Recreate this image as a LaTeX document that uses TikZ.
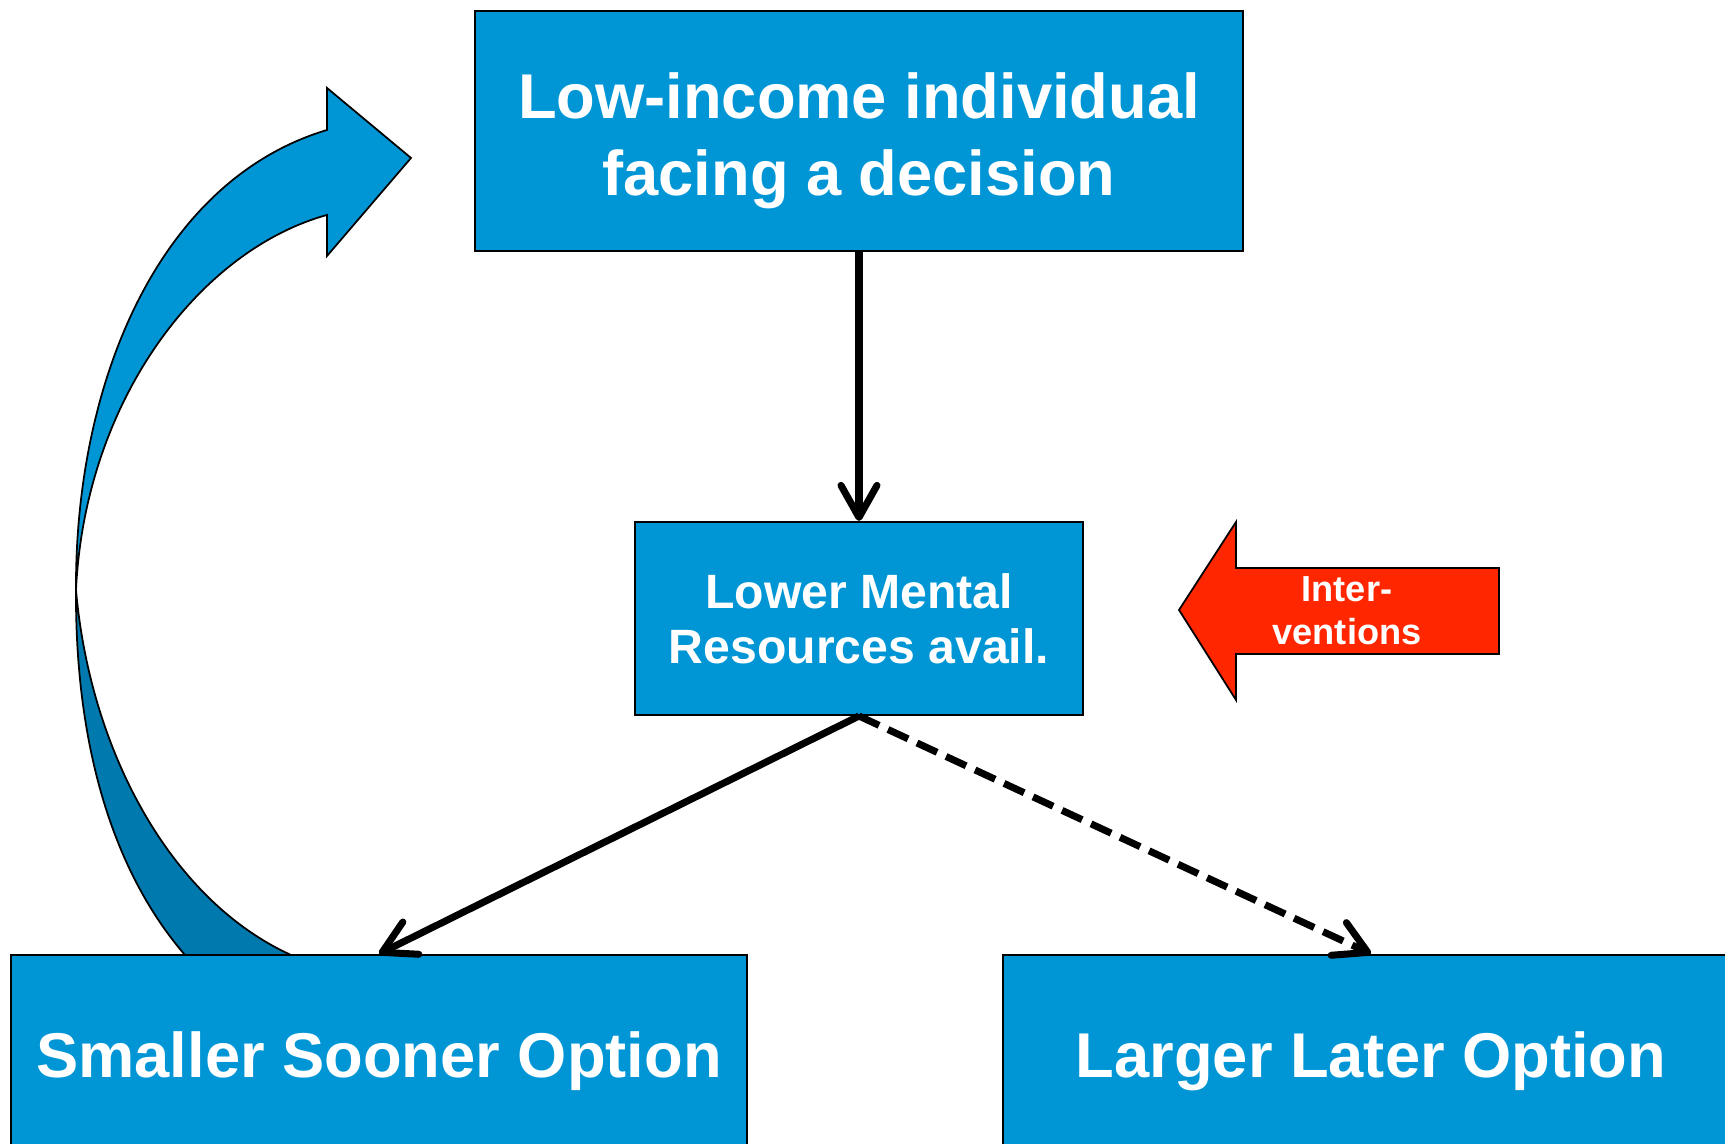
\documentclass[tikz,border=0pt]{standalone}
\usepackage{fontspec}
\setmainfont{Liberation Sans}
\usetikzlibrary{arrows.meta}
\definecolor{boxblue}{RGB}{0,150,214}
\definecolor{bandblue}{RGB}{0,121,174}
\definecolor{hintred}{RGB}{255,38,0}
\tikzset{
	bluebox/.style={draw=black, line width=0.6pt, fill=boxblue, text=white, align=center, inner sep=0pt},
	flow/.style={line width=2pt, -{Straight Barb[length=0.32cm, width=0.36cm, round]}},
}

\begin{document}
\begin{tikzpicture}
		%%%%% START %%%%%
		\useasboundingbox (0, 0) rectangle (17.25, 11.44);
		\clip (0, 0) rectangle (17.25, 11.44);
		
		% curved arrow going back up
		\draw[line width=0.5pt, fill=boxblue] (3.27, 10.14) -- (3.27, 10.56) -- (4.11, 9.86) -- (3.27, 8.88) -- (3.27, 9.29) .. controls (2.00, 8.94) and (0.85, 7.44) .. (0.76, 5.54) .. controls (0.75, 7.64) and (1.60, 9.64) .. (3.27, 10.14) -- cycle;
		\draw[line width=0.5pt, fill=bandblue] (0.76, 5.54) .. controls (0.75, 3.84) and (1.20, 2.64) .. (1.85, 1.89) -- (2.91, 1.89) .. controls (1.70, 2.44) and (0.90, 3.94) .. (0.76, 5.54) -- cycle;
		
		\node[bluebox, minimum width=7.68cm, minimum height=2.40cm, font=\fontsize{18}{21.9}\selectfont\bfseries] (person) at (8.59, 10.13) {\rule{0pt}{0.66cm}Low-income individual\\facing a decision};
		\node[bluebox, minimum width=4.48cm, minimum height=1.93cm, font=\fontsize{13.7}{15.7}\selectfont\bfseries] (mental) at (8.59, 5.255) {Lower Mental\\Resources avail.};
		\node[bluebox, minimum width=7.36cm, minimum height=2.13cm, font=\fontsize{18}{21.9}\selectfont\bfseries] (ssopt) at (3.79, 0.825) {Smaller Sooner Option};
		\node[bluebox, minimum width=7.36cm, minimum height=2.13cm, font=\fontsize{18}{21.9}\selectfont\bfseries] (llopt) at (13.71, 0.825) {Larger Later Option};
		
		% red arrow
		\draw[line width=0.5pt, fill=hintred] (14.99, 5.76) -- (12.36, 5.76) -- (12.36, 6.22) -- (11.79, 5.34) -- (12.36, 4.44) -- (12.36, 4.90) -- (14.99, 4.90) -- cycle;
		\node[text=white, align=center, font=\fontsize{10.3}{12.2}\selectfont\bfseries] (interv) at (13.47, 5.335) {Inter-\\ventions};
		
		\draw[flow] (person.south) -- (mental.north);
		\draw[flow] (mental.south) -- (ssopt.north);
		\draw[flow, dash pattern=on 6.3pt off 2.8pt] (mental.south) -- (llopt.north);
		
		%%%%% END %%%%%
\end{tikzpicture}
\end{document}
